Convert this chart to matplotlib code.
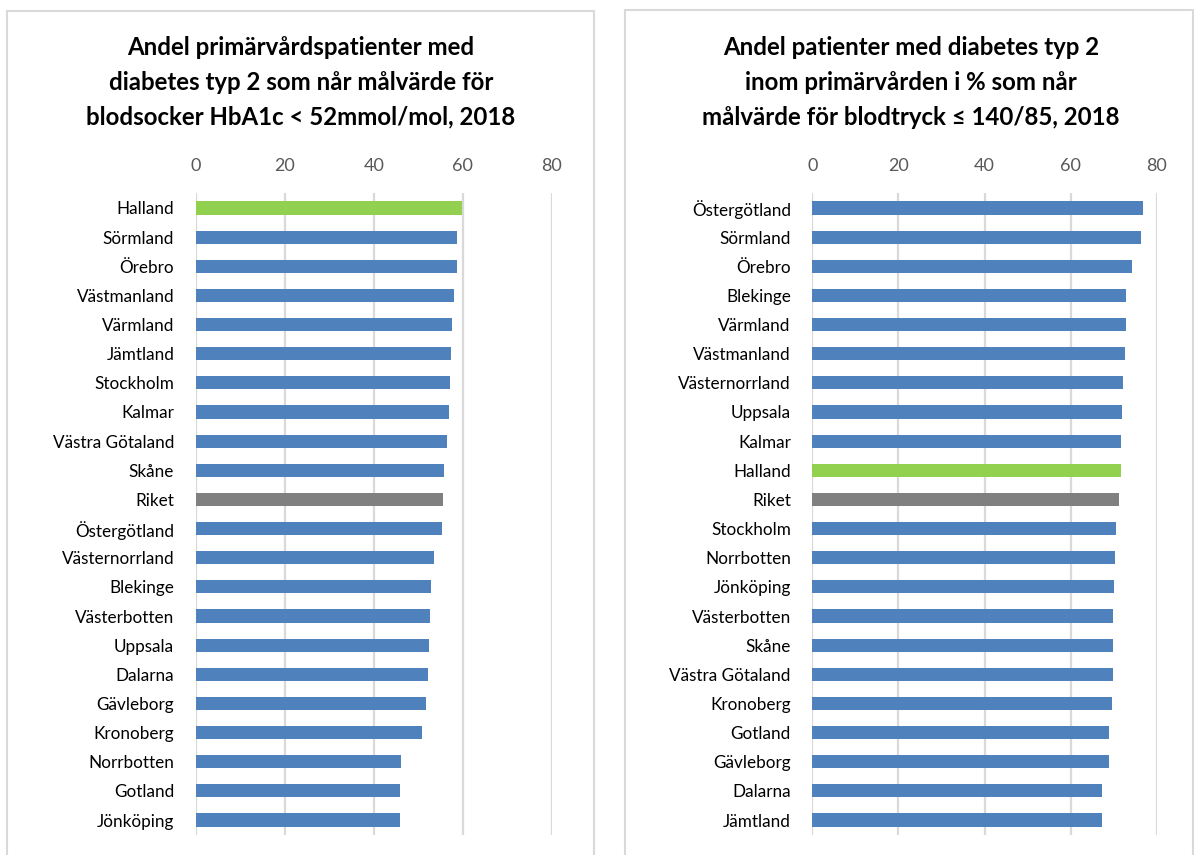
import matplotlib.pyplot as plt
from matplotlib.patches import Rectangle

plt.rcParams['font.family'] = ['Lato', 'DejaVu Sans']

# left chart: HbA1c
regions_left = ['Halland', 'Sörmland', 'Örebro', 'Västmanland', 'Värmland', 'Jämtland',
                'Stockholm', 'Kalmar', 'Västra Götaland', 'Skåne', 'Riket', 'Östergötland',
                'Västernorrland', 'Blekinge', 'Västerbotten', 'Uppsala', 'Dalarna',
                'Gävleborg', 'Kronoberg', 'Norrbotten', 'Gotland', 'Jönköping']
values_left = [59.9, 58.7, 58.7, 58.0, 57.6, 57.4, 57.2, 57.0, 56.4, 55.9, 55.6, 55.3,
               53.5, 52.8, 52.6, 52.4, 52.1, 51.7, 50.8, 46.1, 46.0, 45.8]
title_left = 'Andel primärvårdspatienter med\ndiabetes typ 2 som når målvärde för\nblodsocker HbA1c < 52mmol/mol, 2018'

# right chart: blood pressure
regions_right = ['Östergötland', 'Sörmland', 'Örebro', 'Blekinge', 'Värmland', 'Västmanland',
                 'Västernorrland', 'Uppsala', 'Kalmar', 'Halland', 'Riket', 'Stockholm',
                 'Norrbotten', 'Jönköping', 'Västerbotten', 'Skåne', 'Västra Götaland',
                 'Kronoberg', 'Gotland', 'Gävleborg', 'Dalarna', 'Jämtland']
values_right = [76.8, 76.4, 74.3, 72.8, 72.8, 72.6, 72.2, 72.0, 71.7, 71.6, 71.2, 70.6,
                70.4, 70.1, 69.9, 69.8, 69.8, 69.7, 69.0, 69.0, 67.3, 67.3]
title_right = 'Andel patienter med diabetes typ 2\ninom primärvården i % som når\nmålvärde för blodtryck ≤ 140/85, 2018'

ticks = [0, 20, 40, 60, 80]

W, H = 1194, 855
BLUE = '#4f81bd'
GREEN = '#92d050'
GREY = '#808080'
GRID = '#d9d9d9'

fig = plt.figure(figsize=(W / 100, H / 100), dpi=100)

# panel frames
for x0, x1, y0 in [(7, 594, 11), (625, 1193, 10)]:
    fig.patches.append(Rectangle((x0 / W, -0.05), (x1 - x0) / W, 1.05 - y0 / H,
                                 transform=fig.transFigure, fill=False,
                                 edgecolor=GRID, linewidth=1.5))


def panel(x_left, x_right, names, vals, title, title_x):
    top, bottom = 193.4, 834.6
    ax = fig.add_axes([x_left / W, 1 - bottom / H, (x_right - x_left) / W, (bottom - top) / H])
    colors = []
    for n in names:
        if n == 'Halland':
            colors.append(GREEN)
        elif n == 'Riket':
            colors.append(GREY)
        else:
            colors.append(BLUE)
    pos = list(range(len(names)))
    ax.barh(pos, vals, height=0.45, color=colors, zorder=3)
    ax.set_ylim(len(names) - 0.5, -0.5)
    ax.set_xlim(0, 80)
    ax.set_yticks(pos)
    ax.set_yticklabels(names, fontsize=12.3, color='black')
    ax.set_xticks(ticks)
    ax.set_xticklabels([str(t) for t in ticks], fontsize=13, color='#595959')
    ax.xaxis.tick_top()
    ax.tick_params(length=0)
    ax.tick_params(axis='y', pad=15.5)
    ax.tick_params(axis='x', pad=14)
    for s in ax.spines.values():
        s.set_visible(False)
    ax.grid(axis='x', color=GRID, linewidth=1.6, zorder=0)
    ax.set_axisbelow(True)
    fig.text(title_x / W, 1 - 36 / H, title, ha='center', va='top', fontsize=17.3,
             fontweight='bold', linespacing=1.62)
    return ax


panel(195.7, 551.7, regions_left, values_left, title_left, 301)
panel(812.3, 1156.7, regions_right, values_right, title_right, 911)

fig.savefig('out.png', dpi=100)
